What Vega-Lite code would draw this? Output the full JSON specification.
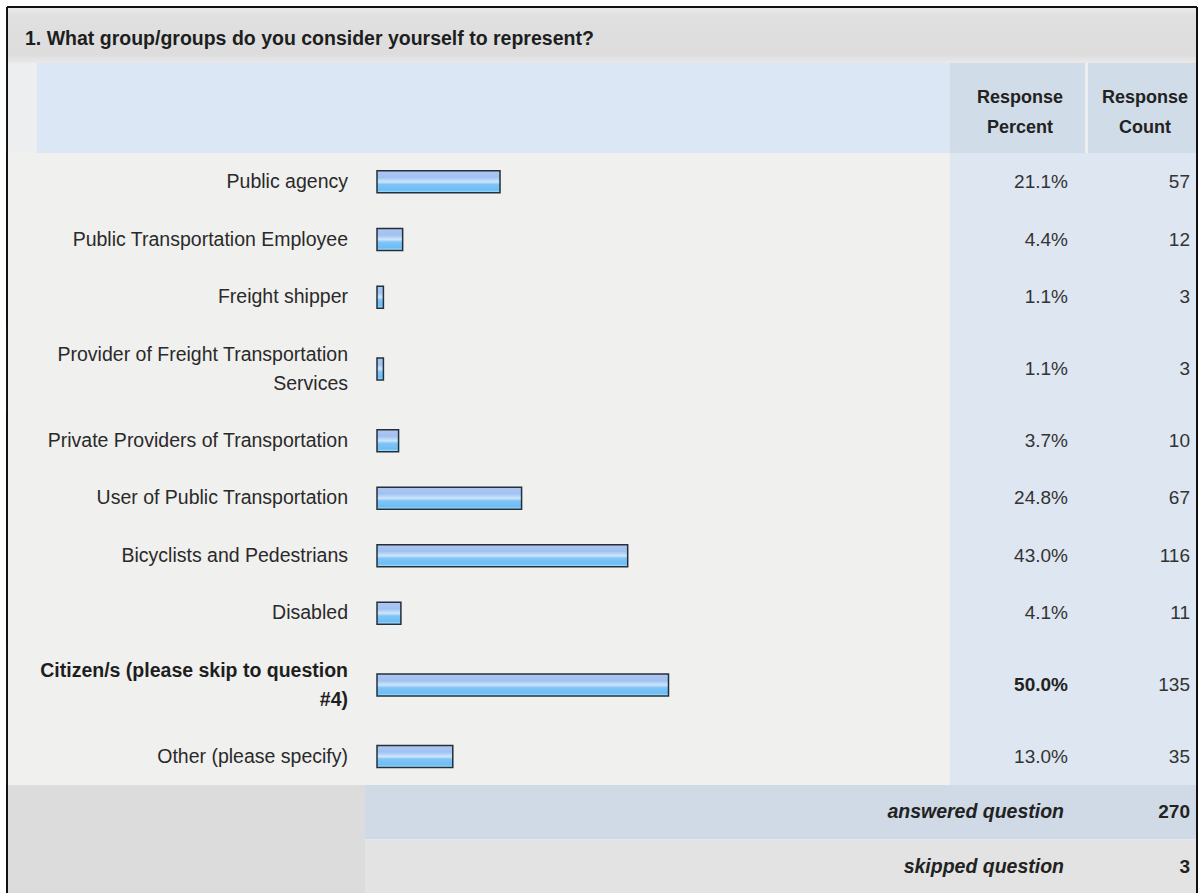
{
  "$schema": "https://vega.github.io/schema/vega-lite/v6.json",
  "background": "white",
  "padding": {"top": 6, "left": 0, "right": 0, "bottom": 0},
  "spacing": 0,
  "bounds": "flush",
  "config": {"view": {"stroke": null}, "font": "Liberation Sans"},
  "datasets": {
    "question": [{"question": "1. What group/groups do you consider yourself to represent?", "percent_header": "Response Percent", "count_header": "Response Count"}],
    "answers": [
      {"answer": "Public agency", "percent": 0.211, "count": 57},
      {"answer": "Public Transportation Employee", "percent": 0.044, "count": 12},
      {"answer": "Freight shipper", "percent": 0.011, "count": 3},
      {"answer": "Provider of Freight Transportation\nServices", "percent": 0.011, "count": 3},
      {"answer": "Private Providers of Transportation", "percent": 0.037, "count": 10},
      {"answer": "User of Public Transportation", "percent": 0.248, "count": 67},
      {"answer": "Bicyclists and Pedestrians", "percent": 0.43, "count": 116},
      {"answer": "Disabled", "percent": 0.041, "count": 11},
      {"answer": "Citizen/s (please skip to question\n#4)", "percent": 0.5, "count": 135},
      {"answer": "Other (please specify)", "percent": 0.13, "count": 35}
    ],
    "totals": [
      {"label": "answered question", "value": 270},
      {"label": "skipped question", "value": 3}
    ]
  },
  "vconcat": [
    {
      "width": 1199, "height": 56,
      "data": {"name": "question"},
      "layer": [
        {"mark": {"type": "rect", "color": {"gradient": "linear", "x1": 0, "y1": 0, "x2": 0, "y2": 1, "stops": [{"offset": 0, "color": "#ececec"}, {"offset": 0.15, "color": "#e0e0e0"}, {"offset": 0.85, "color": "#dddddd"}, {"offset": 1, "color": "#e9e9e9"}]}},
         "encoding": {"x": {"datum": -0.6346, "type": "quantitative", "scale": {"domain": [0, 1], "range": [377, 960]}, "axis": null}, "x2": {"datum": 1.4065}}},
        {"mark": {"type": "text", "align": "left", "baseline": "middle", "fontSize": 19.5, "fontWeight": "bold", "color": "#1e1e1e", "dy": 4},
         "encoding": {"x": {"datum": -0.6038, "type": "quantitative", "scale": {"domain": [0, 1], "range": [377, 960]}, "axis": null}, "text": {"field": "question"}}},
        {"mark": {"type": "rule", "color": "#111111", "strokeWidth": 2},
         "encoding": {"x": {"datum": -0.6346, "type": "quantitative", "scale": {"domain": [0, 1], "range": [377, 960]}, "axis": null}, "x2": {"datum": 1.4065}, "y": {"value": 0}}},
        {"mark": {"type": "rule", "color": "#111111", "strokeWidth": 2},
         "encoding": {"x": {"datum": -0.6346, "type": "quantitative", "scale": {"domain": [0, 1], "range": [377, 960]}, "axis": null}}},
        {"mark": {"type": "rule", "color": "#111111", "strokeWidth": 2},
         "encoding": {"x": {"datum": 1.4065, "type": "quantitative", "scale": {"domain": [0, 1], "range": [377, 960]}, "axis": null}}}
      ]
    },
    {
      "width": 1199, "height": 90,
      "data": {"name": "question"},
      "layer": [
        {"mark": {"type": "rect", "color": "#eceeef"},
         "encoding": {"x": {"datum": -0.6346, "type": "quantitative", "scale": {"domain": [0, 1], "range": [377, 960]}, "axis": null}, "x2": {"datum": 1.4065}}},
        {"mark": {"type": "rect", "color": "#dbe7f5"},
         "encoding": {"x": {"datum": -0.5832, "type": "quantitative", "scale": {"domain": [0, 1], "range": [377, 960]}, "axis": null}, "x2": {"datum": 0.9828}}},
        {"mark": {"type": "rect", "color": "#d1dce9"},
         "encoding": {"x": {"datum": 0.9828, "type": "quantitative", "scale": {"domain": [0, 1], "range": [377, 960]}, "axis": null}, "x2": {"datum": 1.2144}}},
        {"mark": {"type": "rect", "color": "#d1dce9"},
         "encoding": {"x": {"datum": 1.2196, "type": "quantitative", "scale": {"domain": [0, 1], "range": [377, 960]}, "axis": null}, "x2": {"datum": 1.4065}}},
        {"mark": {"type": "text", "align": "center", "baseline": "middle", "fontSize": 18, "fontWeight": "bold", "color": "#222222", "lineBreak": " ", "lineHeight": 30, "dy": -10},
         "encoding": {"x": {"datum": 1.1029, "type": "quantitative", "scale": {"domain": [0, 1], "range": [377, 960]}, "axis": null}, "text": {"field": "percent_header"}}},
        {"mark": {"type": "text", "align": "center", "baseline": "middle", "fontSize": 18, "fontWeight": "bold", "color": "#222222", "lineBreak": " ", "lineHeight": 30, "dy": -10},
         "encoding": {"x": {"datum": 1.3173, "type": "quantitative", "scale": {"domain": [0, 1], "range": [377, 960]}, "axis": null}, "text": {"field": "count_header"}}},
        {"mark": {"type": "rule", "color": "#111111", "strokeWidth": 2},
         "encoding": {"x": {"datum": -0.6346, "type": "quantitative", "scale": {"domain": [0, 1], "range": [377, 960]}, "axis": null}}},
        {"mark": {"type": "rule", "color": "#111111", "strokeWidth": 2},
         "encoding": {"x": {"datum": 1.4065, "type": "quantitative", "scale": {"domain": [0, 1], "range": [377, 960]}, "axis": null}}}
      ]
    },
    {
      "width": 1199, "height": 173,
      "data": {"name": "answers"},
      "transform": [{"filter": {"field": "answer", "oneOf": ["Public agency", "Public Transportation Employee", "Freight shipper"]}}],
      "layer": [
        {"mark": {"type": "rect", "color": "#f0f0ef"},
         "encoding": {"x": {"datum": -0.6346, "type": "quantitative", "scale": {"domain": [0, 1], "range": [377, 960]}, "axis": null}, "x2": {"datum": 0.9828}}},
        {"mark": {"type": "rect", "color": "#dde6f1"},
         "encoding": {"x": {"datum": 0.9828, "type": "quantitative", "scale": {"domain": [0, 1], "range": [377, 960]}, "axis": null}, "x2": {"datum": 1.4065}}},
        {"mark": {"type": "bar", "size": 22, "stroke": "#22303c", "strokeWidth": 1.5,
                  "color": {"gradient": "linear", "x1": 0, "y1": 0, "x2": 0, "y2": 1, "stops": [{"offset": 0, "color": "#b4c4ee"}, {"offset": 0.3, "color": "#9fc2f2"}, {"offset": 0.5, "color": "#cde6fb"}, {"offset": 0.62, "color": "#80c4f7"}, {"offset": 0.88, "color": "#6cbdf5"}, {"offset": 1, "color": "#b8ecfb"}]}},
         "encoding": {
           "y": {"field": "answer", "type": "nominal", "sort": null, "axis": null, "scale": {"paddingInner": 0, "paddingOuter": 0}},
           "x": {"field": "percent", "type": "quantitative", "scale": {"domain": [0, 1], "range": [377, 960]}, "axis": null}}},
        {"mark": {"type": "text", "align": "right", "baseline": "middle", "fontSize": 19.5, "color": "#2a2a2a", "dx": -29},
         "encoding": {
           "y": {"field": "answer", "type": "nominal", "sort": null, "axis": null, "scale": {"paddingInner": 0, "paddingOuter": 0}},
           "x": {"datum": 0, "type": "quantitative", "scale": {"domain": [0, 1], "range": [377, 960]}, "axis": null},
           "text": {"field": "answer"}}},
        {"mark": {"type": "text", "align": "right", "baseline": "middle", "fontSize": 19, "color": "#333333"},
         "encoding": {
           "y": {"field": "answer", "type": "nominal", "sort": null, "axis": null, "scale": {"paddingInner": 0, "paddingOuter": 0}},
           "x": {"datum": 1.1852, "type": "quantitative", "scale": {"domain": [0, 1], "range": [377, 960]}, "axis": null},
           "text": {"field": "percent", "format": ".1%"}}},
        {"mark": {"type": "text", "align": "right", "baseline": "middle", "fontSize": 19, "color": "#333333"},
         "encoding": {
           "y": {"field": "answer", "type": "nominal", "sort": null, "axis": null, "scale": {"paddingInner": 0, "paddingOuter": 0}},
           "x": {"datum": 1.3945, "type": "quantitative", "scale": {"domain": [0, 1], "range": [377, 960]}, "axis": null},
           "text": {"field": "count"}}},
        {"mark": {"type": "rule", "color": "#111111", "strokeWidth": 2},
         "encoding": {"x": {"datum": -0.6346, "type": "quantitative", "scale": {"domain": [0, 1], "range": [377, 960]}, "axis": null}}},
        {"mark": {"type": "rule", "color": "#111111", "strokeWidth": 2},
         "encoding": {"x": {"datum": 1.4065, "type": "quantitative", "scale": {"domain": [0, 1], "range": [377, 960]}, "axis": null}}}
      ]
    },
    {
      "width": 1199, "height": 86,
      "data": {"name": "answers"},
      "transform": [{"filter": {"field": "answer", "oneOf": ["Provider of Freight Transportation\nServices"]}}],
      "layer": [
        {"mark": {"type": "rect", "color": "#f0f0ef"},
         "encoding": {"x": {"datum": -0.6346, "type": "quantitative", "scale": {"domain": [0, 1], "range": [377, 960]}, "axis": null}, "x2": {"datum": 0.9828}}},
        {"mark": {"type": "rect", "color": "#dde6f1"},
         "encoding": {"x": {"datum": 0.9828, "type": "quantitative", "scale": {"domain": [0, 1], "range": [377, 960]}, "axis": null}, "x2": {"datum": 1.4065}}},
        {"mark": {"type": "bar", "size": 22, "stroke": "#22303c", "strokeWidth": 1.5,
                  "color": {"gradient": "linear", "x1": 0, "y1": 0, "x2": 0, "y2": 1, "stops": [{"offset": 0, "color": "#b4c4ee"}, {"offset": 0.3, "color": "#9fc2f2"}, {"offset": 0.5, "color": "#cde6fb"}, {"offset": 0.62, "color": "#80c4f7"}, {"offset": 0.88, "color": "#6cbdf5"}, {"offset": 1, "color": "#b8ecfb"}]}},
         "encoding": {
           "y": {"field": "answer", "type": "nominal", "sort": null, "axis": null, "scale": {"paddingInner": 0, "paddingOuter": 0}},
           "x": {"field": "percent", "type": "quantitative", "scale": {"domain": [0, 1], "range": [377, 960]}, "axis": null}}},
        {"mark": {"type": "text", "align": "right", "baseline": "middle", "fontSize": 19.5, "color": "#2a2a2a", "dx": -29, "dy": -14.5, "lineBreak": "\n", "lineHeight": 29},
         "encoding": {
           "y": {"field": "answer", "type": "nominal", "sort": null, "axis": null, "scale": {"paddingInner": 0, "paddingOuter": 0}},
           "x": {"datum": 0, "type": "quantitative", "scale": {"domain": [0, 1], "range": [377, 960]}, "axis": null},
           "text": {"field": "answer"}}},
        {"mark": {"type": "text", "align": "right", "baseline": "middle", "fontSize": 19, "color": "#333333"},
         "encoding": {
           "y": {"field": "answer", "type": "nominal", "sort": null, "axis": null, "scale": {"paddingInner": 0, "paddingOuter": 0}},
           "x": {"datum": 1.1852, "type": "quantitative", "scale": {"domain": [0, 1], "range": [377, 960]}, "axis": null},
           "text": {"field": "percent", "format": ".1%"}}},
        {"mark": {"type": "text", "align": "right", "baseline": "middle", "fontSize": 19, "color": "#333333"},
         "encoding": {
           "y": {"field": "answer", "type": "nominal", "sort": null, "axis": null, "scale": {"paddingInner": 0, "paddingOuter": 0}},
           "x": {"datum": 1.3945, "type": "quantitative", "scale": {"domain": [0, 1], "range": [377, 960]}, "axis": null},
           "text": {"field": "count"}}},
        {"mark": {"type": "rule", "color": "#111111", "strokeWidth": 2},
         "encoding": {"x": {"datum": -0.6346, "type": "quantitative", "scale": {"domain": [0, 1], "range": [377, 960]}, "axis": null}}},
        {"mark": {"type": "rule", "color": "#111111", "strokeWidth": 2},
         "encoding": {"x": {"datum": 1.4065, "type": "quantitative", "scale": {"domain": [0, 1], "range": [377, 960]}, "axis": null}}}
      ]
    },
    {
      "width": 1199, "height": 230,
      "data": {"name": "answers"},
      "transform": [{"filter": {"field": "answer", "oneOf": ["Private Providers of Transportation", "User of Public Transportation", "Bicyclists and Pedestrians", "Disabled"]}}],
      "layer": [
        {"mark": {"type": "rect", "color": "#f0f0ef"},
         "encoding": {"x": {"datum": -0.6346, "type": "quantitative", "scale": {"domain": [0, 1], "range": [377, 960]}, "axis": null}, "x2": {"datum": 0.9828}}},
        {"mark": {"type": "rect", "color": "#dde6f1"},
         "encoding": {"x": {"datum": 0.9828, "type": "quantitative", "scale": {"domain": [0, 1], "range": [377, 960]}, "axis": null}, "x2": {"datum": 1.4065}}},
        {"mark": {"type": "bar", "size": 22, "stroke": "#22303c", "strokeWidth": 1.5,
                  "color": {"gradient": "linear", "x1": 0, "y1": 0, "x2": 0, "y2": 1, "stops": [{"offset": 0, "color": "#b4c4ee"}, {"offset": 0.3, "color": "#9fc2f2"}, {"offset": 0.5, "color": "#cde6fb"}, {"offset": 0.62, "color": "#80c4f7"}, {"offset": 0.88, "color": "#6cbdf5"}, {"offset": 1, "color": "#b8ecfb"}]}},
         "encoding": {
           "y": {"field": "answer", "type": "nominal", "sort": null, "axis": null, "scale": {"paddingInner": 0, "paddingOuter": 0}},
           "x": {"field": "percent", "type": "quantitative", "scale": {"domain": [0, 1], "range": [377, 960]}, "axis": null}}},
        {"mark": {"type": "text", "align": "right", "baseline": "middle", "fontSize": 19.5, "color": "#2a2a2a", "dx": -29},
         "encoding": {
           "y": {"field": "answer", "type": "nominal", "sort": null, "axis": null, "scale": {"paddingInner": 0, "paddingOuter": 0}},
           "x": {"datum": 0, "type": "quantitative", "scale": {"domain": [0, 1], "range": [377, 960]}, "axis": null},
           "text": {"field": "answer"}}},
        {"mark": {"type": "text", "align": "right", "baseline": "middle", "fontSize": 19, "color": "#333333"},
         "encoding": {
           "y": {"field": "answer", "type": "nominal", "sort": null, "axis": null, "scale": {"paddingInner": 0, "paddingOuter": 0}},
           "x": {"datum": 1.1852, "type": "quantitative", "scale": {"domain": [0, 1], "range": [377, 960]}, "axis": null},
           "text": {"field": "percent", "format": ".1%"}}},
        {"mark": {"type": "text", "align": "right", "baseline": "middle", "fontSize": 19, "color": "#333333"},
         "encoding": {
           "y": {"field": "answer", "type": "nominal", "sort": null, "axis": null, "scale": {"paddingInner": 0, "paddingOuter": 0}},
           "x": {"datum": 1.3945, "type": "quantitative", "scale": {"domain": [0, 1], "range": [377, 960]}, "axis": null},
           "text": {"field": "count"}}},
        {"mark": {"type": "rule", "color": "#111111", "strokeWidth": 2},
         "encoding": {"x": {"datum": -0.6346, "type": "quantitative", "scale": {"domain": [0, 1], "range": [377, 960]}, "axis": null}}},
        {"mark": {"type": "rule", "color": "#111111", "strokeWidth": 2},
         "encoding": {"x": {"datum": 1.4065, "type": "quantitative", "scale": {"domain": [0, 1], "range": [377, 960]}, "axis": null}}}
      ]
    },
    {
      "width": 1199, "height": 86,
      "data": {"name": "answers"},
      "transform": [{"filter": {"field": "answer", "oneOf": ["Citizen/s (please skip to question\n#4)"]}}],
      "layer": [
        {"mark": {"type": "rect", "color": "#f0f0ef"},
         "encoding": {"x": {"datum": -0.6346, "type": "quantitative", "scale": {"domain": [0, 1], "range": [377, 960]}, "axis": null}, "x2": {"datum": 0.9828}}},
        {"mark": {"type": "rect", "color": "#dde6f1"},
         "encoding": {"x": {"datum": 0.9828, "type": "quantitative", "scale": {"domain": [0, 1], "range": [377, 960]}, "axis": null}, "x2": {"datum": 1.4065}}},
        {"mark": {"type": "bar", "size": 22, "stroke": "#22303c", "strokeWidth": 1.5,
                  "color": {"gradient": "linear", "x1": 0, "y1": 0, "x2": 0, "y2": 1, "stops": [{"offset": 0, "color": "#b4c4ee"}, {"offset": 0.3, "color": "#9fc2f2"}, {"offset": 0.5, "color": "#cde6fb"}, {"offset": 0.62, "color": "#80c4f7"}, {"offset": 0.88, "color": "#6cbdf5"}, {"offset": 1, "color": "#b8ecfb"}]}},
         "encoding": {
           "y": {"field": "answer", "type": "nominal", "sort": null, "axis": null, "scale": {"paddingInner": 0, "paddingOuter": 0}},
           "x": {"field": "percent", "type": "quantitative", "scale": {"domain": [0, 1], "range": [377, 960]}, "axis": null}}},
        {"mark": {"type": "text", "align": "right", "baseline": "middle", "fontSize": 19.5, "fontWeight": "bold", "color": "#1e1e1e", "dx": -29, "dy": -14.5, "lineBreak": "\n", "lineHeight": 29},
         "encoding": {
           "y": {"field": "answer", "type": "nominal", "sort": null, "axis": null, "scale": {"paddingInner": 0, "paddingOuter": 0}},
           "x": {"datum": 0, "type": "quantitative", "scale": {"domain": [0, 1], "range": [377, 960]}, "axis": null},
           "text": {"field": "answer"}}},
        {"mark": {"type": "text", "align": "right", "baseline": "middle", "fontSize": 19, "fontWeight": "bold", "color": "#222222"},
         "encoding": {
           "y": {"field": "answer", "type": "nominal", "sort": null, "axis": null, "scale": {"paddingInner": 0, "paddingOuter": 0}},
           "x": {"datum": 1.1852, "type": "quantitative", "scale": {"domain": [0, 1], "range": [377, 960]}, "axis": null},
           "text": {"field": "percent", "format": ".1%"}}},
        {"mark": {"type": "text", "align": "right", "baseline": "middle", "fontSize": 19, "color": "#333333"},
         "encoding": {
           "y": {"field": "answer", "type": "nominal", "sort": null, "axis": null, "scale": {"paddingInner": 0, "paddingOuter": 0}},
           "x": {"datum": 1.3945, "type": "quantitative", "scale": {"domain": [0, 1], "range": [377, 960]}, "axis": null},
           "text": {"field": "count"}}},
        {"mark": {"type": "rule", "color": "#111111", "strokeWidth": 2},
         "encoding": {"x": {"datum": -0.6346, "type": "quantitative", "scale": {"domain": [0, 1], "range": [377, 960]}, "axis": null}}},
        {"mark": {"type": "rule", "color": "#111111", "strokeWidth": 2},
         "encoding": {"x": {"datum": 1.4065, "type": "quantitative", "scale": {"domain": [0, 1], "range": [377, 960]}, "axis": null}}}
      ]
    },
    {
      "width": 1199, "height": 57,
      "data": {"name": "answers"},
      "transform": [{"filter": {"field": "answer", "oneOf": ["Other (please specify)"]}}],
      "layer": [
        {"mark": {"type": "rect", "color": "#f0f0ef"},
         "encoding": {"x": {"datum": -0.6346, "type": "quantitative", "scale": {"domain": [0, 1], "range": [377, 960]}, "axis": null}, "x2": {"datum": 0.9828}}},
        {"mark": {"type": "rect", "color": "#dde6f1"},
         "encoding": {"x": {"datum": 0.9828, "type": "quantitative", "scale": {"domain": [0, 1], "range": [377, 960]}, "axis": null}, "x2": {"datum": 1.4065}}},
        {"mark": {"type": "bar", "size": 22, "stroke": "#22303c", "strokeWidth": 1.5,
                  "color": {"gradient": "linear", "x1": 0, "y1": 0, "x2": 0, "y2": 1, "stops": [{"offset": 0, "color": "#b4c4ee"}, {"offset": 0.3, "color": "#9fc2f2"}, {"offset": 0.5, "color": "#cde6fb"}, {"offset": 0.62, "color": "#80c4f7"}, {"offset": 0.88, "color": "#6cbdf5"}, {"offset": 1, "color": "#b8ecfb"}]}},
         "encoding": {
           "y": {"field": "answer", "type": "nominal", "sort": null, "axis": null, "scale": {"paddingInner": 0, "paddingOuter": 0}},
           "x": {"field": "percent", "type": "quantitative", "scale": {"domain": [0, 1], "range": [377, 960]}, "axis": null}}},
        {"mark": {"type": "text", "align": "right", "baseline": "middle", "fontSize": 19.5, "color": "#2a2a2a", "dx": -29},
         "encoding": {
           "y": {"field": "answer", "type": "nominal", "sort": null, "axis": null, "scale": {"paddingInner": 0, "paddingOuter": 0}},
           "x": {"datum": 0, "type": "quantitative", "scale": {"domain": [0, 1], "range": [377, 960]}, "axis": null},
           "text": {"field": "answer"}}},
        {"mark": {"type": "text", "align": "right", "baseline": "middle", "fontSize": 19, "color": "#333333"},
         "encoding": {
           "y": {"field": "answer", "type": "nominal", "sort": null, "axis": null, "scale": {"paddingInner": 0, "paddingOuter": 0}},
           "x": {"datum": 1.1852, "type": "quantitative", "scale": {"domain": [0, 1], "range": [377, 960]}, "axis": null},
           "text": {"field": "percent", "format": ".1%"}}},
        {"mark": {"type": "text", "align": "right", "baseline": "middle", "fontSize": 19, "color": "#333333"},
         "encoding": {
           "y": {"field": "answer", "type": "nominal", "sort": null, "axis": null, "scale": {"paddingInner": 0, "paddingOuter": 0}},
           "x": {"datum": 1.3945, "type": "quantitative", "scale": {"domain": [0, 1], "range": [377, 960]}, "axis": null},
           "text": {"field": "count"}}},
        {"mark": {"type": "rule", "color": "#111111", "strokeWidth": 2},
         "encoding": {"x": {"datum": -0.6346, "type": "quantitative", "scale": {"domain": [0, 1], "range": [377, 960]}, "axis": null}}},
        {"mark": {"type": "rule", "color": "#111111", "strokeWidth": 2},
         "encoding": {"x": {"datum": 1.4065, "type": "quantitative", "scale": {"domain": [0, 1], "range": [377, 960]}, "axis": null}}}
      ]
    },
    {
      "width": 1199, "height": 109,
      "data": {"name": "totals"},
      "layer": [
        {"mark": {"type": "rect", "color": "#dcdcdc"},
         "encoding": {"x": {"datum": -0.6346, "type": "quantitative", "scale": {"domain": [0, 1], "range": [377, 960]}, "axis": null}, "x2": {"datum": -0.0206}}},
        {"mark": {"type": "rect"},
         "encoding": {
           "y": {"field": "label", "type": "nominal", "sort": null, "axis": null, "scale": {"paddingInner": 0, "paddingOuter": 0}},
           "x": {"datum": -0.0206, "type": "quantitative", "scale": {"domain": [0, 1], "range": [377, 960]}, "axis": null}, "x2": {"datum": 1.4065},
           "color": {"condition": {"test": "datum.label === 'answered question'", "value": "#cfdae6"}, "value": "#e3e3e3"}}},
        {"mark": {"type": "text", "align": "right", "baseline": "middle", "fontSize": 19.5, "fontWeight": "bold", "fontStyle": "italic", "color": "#222222"},
         "encoding": {
           "y": {"field": "label", "type": "nominal", "sort": null, "axis": null, "scale": {"paddingInner": 0, "paddingOuter": 0}},
           "x": {"datum": 1.1784, "type": "quantitative", "scale": {"domain": [0, 1], "range": [377, 960]}, "axis": null},
           "text": {"field": "label"}}},
        {"mark": {"type": "text", "align": "right", "baseline": "middle", "fontSize": 19, "fontWeight": "bold", "color": "#222222"},
         "encoding": {
           "y": {"field": "label", "type": "nominal", "sort": null, "axis": null, "scale": {"paddingInner": 0, "paddingOuter": 0}},
           "x": {"datum": 1.3945, "type": "quantitative", "scale": {"domain": [0, 1], "range": [377, 960]}, "axis": null},
           "text": {"field": "value"}}},
        {"mark": {"type": "rule", "color": "#111111", "strokeWidth": 2},
         "encoding": {"x": {"datum": -0.6346, "type": "quantitative", "scale": {"domain": [0, 1], "range": [377, 960]}, "axis": null}}},
        {"mark": {"type": "rule", "color": "#111111", "strokeWidth": 2},
         "encoding": {"x": {"datum": 1.4065, "type": "quantitative", "scale": {"domain": [0, 1], "range": [377, 960]}, "axis": null}}}
      ]
    }
  ]
}
